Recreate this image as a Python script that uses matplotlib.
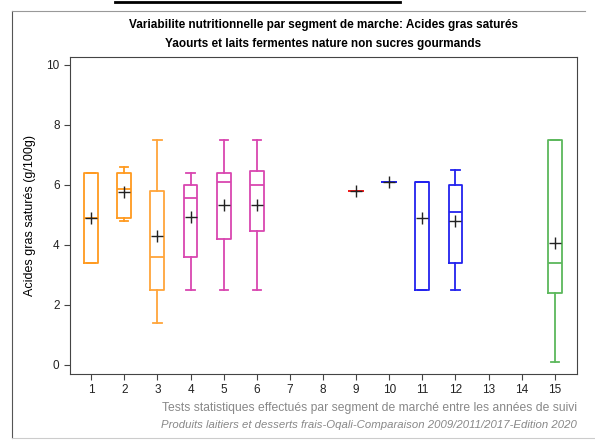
import matplotlib.pyplot as plt
from matplotlib.lines import Line2D

# segments de marche (1..15)
segments = list(range(1, 16))
present = [1, 2, 3, 4, 5, 6, 9, 10, 11, 12, 15]
whislo = [3.4, 4.8, 1.4, 2.5, 2.5, 2.5, 5.8, 6.1, 2.5, 2.5, 0.1]
q1 = [3.4, 4.9, 2.5, 3.6, 4.2, 4.45, 5.8, 6.1, 2.5, 3.4, 2.4]
med = [4.9, 5.85, 3.6, 5.55, 6.1, 6.0, 5.8, 6.1, 6.1, 5.1, 3.4]
q3 = [6.4, 6.4, 5.8, 6.0, 6.4, 6.45, 5.8, 6.1, 6.1, 6.0, 7.5]
whishi = [6.4, 6.6, 7.5, 6.4, 7.5, 7.5, 5.8, 6.1, 6.1, 6.5, 7.5]
mean = [4.9, 5.75, 4.3, 4.93, 5.33, 5.33, 5.8, 6.1, 4.9, 4.8, 4.05]
colors = ['#ff9a1f', '#ff9a1f', '#ffa53a', '#d946b0', '#d946b0', '#d946b0',
          '#ee1c1c', '#2222ee', '#2222ee', '#2222ee', '#5cb85c']

fig = plt.figure(figsize=(5.95, 4.41), dpi=100)
plt.rcParams['font.family'] = ['Liberation Sans', 'DejaVu Sans']

ax = fig.add_axes([70 / 595, 1 - 374 / 441, 507 / 595, 317 / 441])

for i, pos in enumerate(present):
    st = dict(whislo=whislo[i], q1=q1[i], med=med[i], q3=q3[i], whishi=whishi[i],
              mean=mean[i], fliers=[])
    c = colors[i]
    ax.bxp([st], positions=[pos], widths=0.42, capwidths=0.25, showmeans=True,
           boxprops=dict(color=c, lw=1.3),
           whiskerprops=dict(color=c, lw=1.3),
           capprops=dict(color=c, lw=1.3),
           medianprops=dict(color=c, lw=1.3),
           meanprops=dict(marker='+', markeredgecolor='#222222', markersize=8.5, mew=1.0))

ax.set_xlim(0.36, 15.67)
ax.set_ylim(-0.3, 10.25)
ax.set_xticks(segments)
ax.set_xticklabels([str(s) for s in segments])
ax.set_yticks([0, 2, 4, 6, 8, 10])
ax.tick_params(labelsize=8.5, length=4, color='#444444', labelcolor='#222222')
for sp in ax.spines.values():
    sp.set_color('#444444')
ax.set_ylabel('Acides gras saturés (g/100g)', fontsize=9)
ax.yaxis.set_label_coords(-0.068, 0.5)

# titres centres au-dessus du cadre du graphique
xc = 323.5 / 595
fig.text(xc, 1 - 25 / 441, 'Variabilite nutritionnelle par segment de marche: Acides gras saturés',
         ha='center', va='center', fontsize=8.5, fontweight='bold')
fig.text(xc, 1 - 44 / 441, 'Yaourts et laits fermentes nature non sucres gourmands',
         ha='center', va='center', fontsize=8.5, fontweight='bold')
fig.text(577 / 595, 1 - 408 / 441,
         'Tests statistiques effectués par segment de marché entre les années de suivi',
         ha='right', va='center', fontsize=8.7, color='#888888')
fig.text(577 / 595, 1 - 425 / 441,
         'Produits laitiers et desserts frais-Oqali-Comparaison 2009/2011/2017-Edition 2020',
         ha='right', va='center', fontsize=8.2, color='#888888', style='italic')

# cadre exterieur de la capture
fig.add_artist(Line2D([12 / 595, 12 / 595], [1 - 11 / 441, 1 - 438 / 441],
                      transform=fig.transFigure, color='#555555', lw=0.8))
fig.add_artist(Line2D([12 / 595, 585 / 595], [1 - 11 / 441, 1 - 11 / 441],
                      transform=fig.transFigure, color='#999999', lw=0.8))
fig.add_artist(Line2D([12 / 595, 595 / 595], [1 - 438 / 441, 1 - 438 / 441],
                      transform=fig.transFigure, color='#cccccc', lw=0.8))
fig.add_artist(Line2D([115 / 595, 400 / 595], [1 - 1.5 / 441, 1 - 1.5 / 441],
                      transform=fig.transFigure, color='black', lw=2))

fig.savefig('out.png', dpi=100)
